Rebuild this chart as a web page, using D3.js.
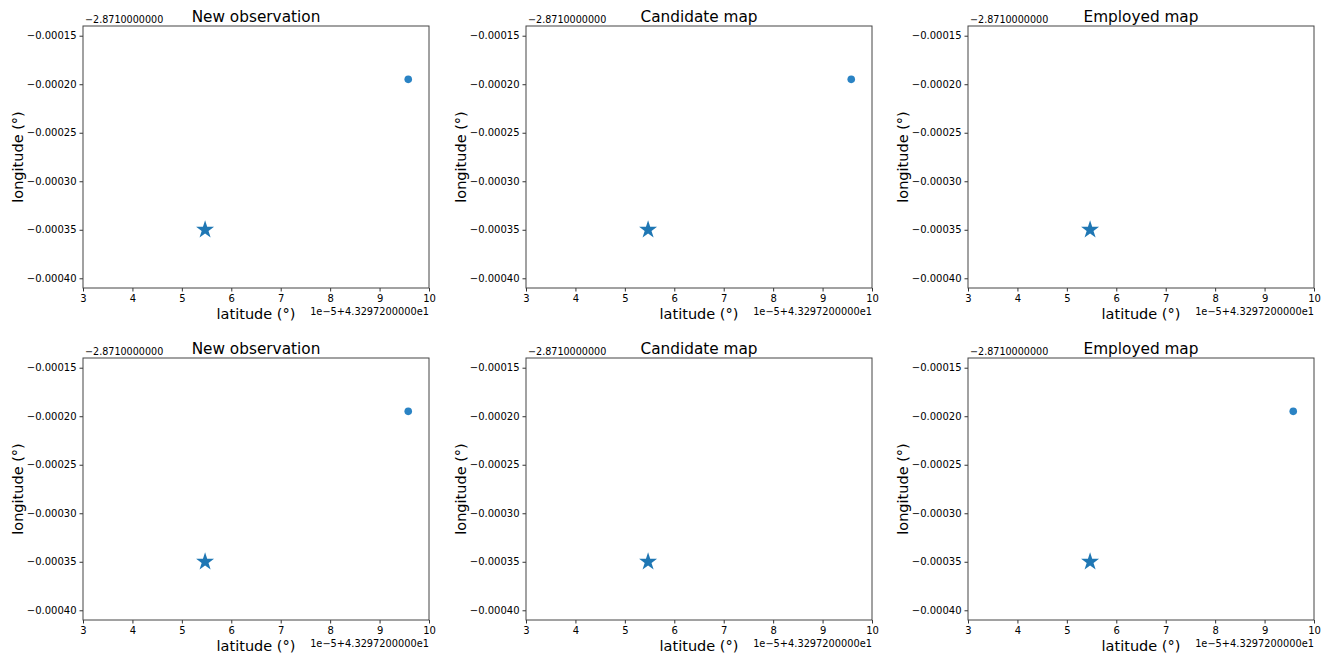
<!DOCTYPE html>
<html>
<head>
<meta charset="utf-8">
<script src="https://cdn.jsdelivr.net/npm/d3@7"></script>
<style>
  body { margin: 0; background: #fff; }
  text { font-family: "DejaVu Sans", sans-serif; fill: #000; }
</style>
</head>
<body>
<svg width="1329" height="655"></svg>
<script>
// latitude shown as offset * 1e-5 above 43.2972, longitude offset from -2.871
const titles = ['New observation', 'Candidate map', 'Employed map']
const xTicks = [3, 4, 5, 6, 7, 8, 9, 10]
const yTicks = [-0.00015, -0.0002, -0.00025, -0.0003, -0.00035, -0.0004]
const xDomain = [3, 10]
const yDomain = [-0.00041, -0.00014]

// star = current position, dot = observation (one entry per panel, row-major)
const starPoint = { lat: 5.47, lon: -0.00035 }
const dotPoint = { lat: 9.58, lon: -0.000195 }
const dotShown = [true, true, false, true, false, true]

const colLeft = [83, 526, 968]
const rowTop = [26, 358]
const w = 346, h = 262

const svg = d3.select('svg')
const fmtY = d => d3.format('.5f')(d).replace('-', '\u2212')

rowTop.forEach((top, r) => {
    colLeft.forEach((left, c) => {
        const idx = r * 3 + c
        const x = d3.scaleLinear().domain(xDomain).range([left, left + w])
        const y = d3.scaleLinear().domain(yDomain).range([top + h, top])
        const g = svg.append('g')

        const xAxis = d3.axisBottom(x).tickValues(xTicks).tickSize(3.5).tickPadding(3).tickFormat(d3.format('d'))
        g.append('g').attr('transform', `translate(0, ${top + h})`).call(xAxis)
        const yAxis = d3.axisLeft(y).tickValues(yTicks).tickSize(3.5).tickPadding(3).tickFormat(fmtY)
        g.append('g').attr('transform', `translate(${left}, 0)`).call(yAxis)
        g.selectAll('.domain').remove()
        g.selectAll('.tick text').style('font-size', '10px').style('font-family', '"DejaVu Sans", sans-serif')
        g.selectAll('.tick line').attr('stroke', '#333')

        g.append('rect')
            .attr('x', left).attr('y', top).attr('width', w).attr('height', h)
            .attr('fill', 'none').attr('stroke', '#444').attr('stroke-width', 1)

        g.append('text')
            .attr('x', left + w / 2).attr('y', top - 4)
            .attr('text-anchor', 'middle').style('font-size', '15.3px')
            .text(titles[c])

        g.append('text')
            .attr('x', left + 2).attr('y', top - 3)
            .style('font-size', '9.6px')
            .text('\u22122.8710000000')

        g.append('text')
            .attr('x', left + w).attr('y', top + h + 27)
            .attr('text-anchor', 'end').style('font-size', '9.8px')
            .text('1e\u22125+4.3297200000e1')

        g.append('text')
            .attr('x', left + w / 2).attr('y', top + h + 31)
            .attr('text-anchor', 'middle').style('font-size', '14.5px')
            .text('latitude (°)')

        g.append('text')
            .attr('transform', `translate(${left - 60}, ${top + h / 2}) rotate(-90)`)
            .attr('text-anchor', 'middle').style('font-size', '14.5px')
            .text('longitude (°)')

        g.append('path')
            .attr('d', d3.symbol(d3.symbolStar, 100)())
            .attr('transform', `translate(${x(starPoint.lat)}, ${y(starPoint.lon)})`)
            .attr('fill', '#1f77b4')

        if (dotShown[idx]) {
            g.append('circle')
                .attr('cx', x(dotPoint.lat)).attr('cy', y(dotPoint.lon))
                .attr('r', 3.8).attr('fill', '#2a83c4')
        }
    })
})
</script>
</body>
</html>
